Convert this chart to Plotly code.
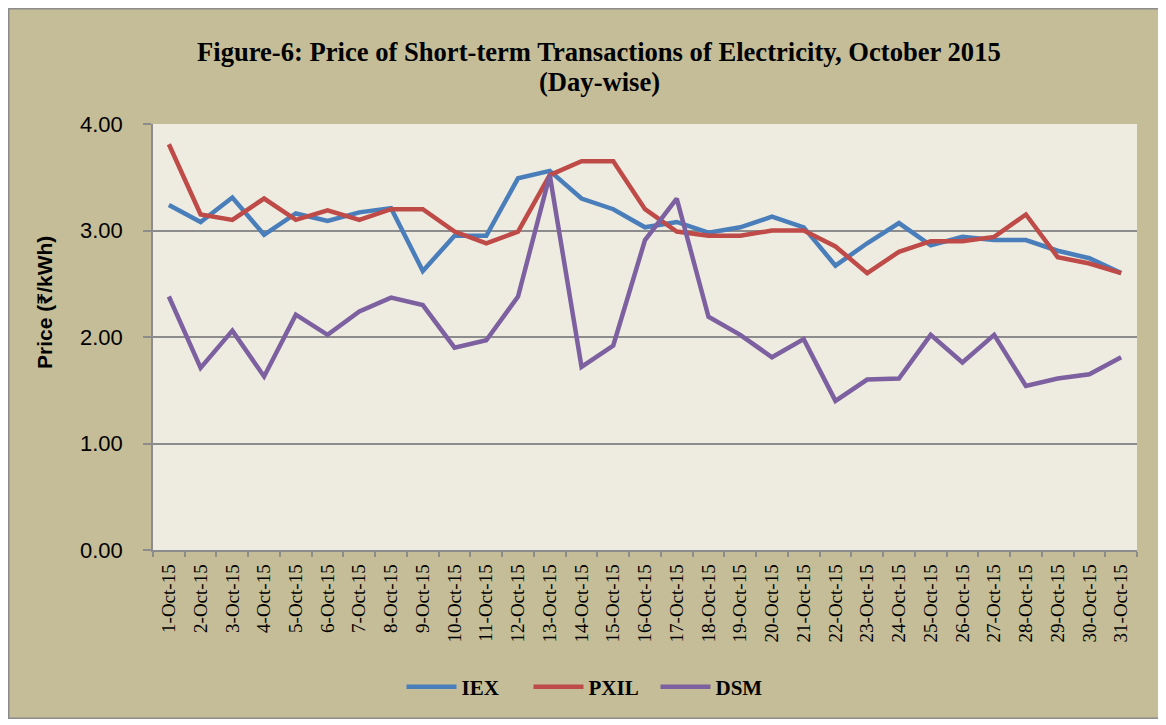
import plotly.graph_objects as go

days = [f"{d}-Oct-15" for d in range(1, 32)]
iex = [3.24, 3.08, 3.31, 2.96, 3.16, 3.09, 3.17, 3.21, 2.62, 2.95, 2.95, 3.49, 3.56, 3.30, 3.20, 3.03,
       3.08, 2.98, 3.03, 3.13, 3.03, 2.67, 2.88, 3.07, 2.86, 2.94, 2.91, 2.91, 2.81, 2.74, 2.60]
pxil = [3.81, 3.15, 3.10, 3.30, 3.10, 3.19, 3.10, 3.20, 3.20, 2.99, 2.88, 2.99, 3.52, 3.65, 3.65, 3.20,
        2.99, 2.95, 2.95, 3.00, 3.00, 2.85, 2.60, 2.80, 2.90, 2.90, 2.94, 3.15, 2.75, 2.69, 2.60]
dsm = [2.38, 1.71, 2.06, 1.63, 2.21, 2.02, 2.24, 2.37, 2.30, 1.90, 1.97, 2.38, 3.52, 1.72, 1.92, 2.91,
       3.30, 2.19, 2.02, 1.81, 1.98, 1.40, 1.60, 1.61, 2.02, 1.76, 2.02, 1.54, 1.61, 1.65, 1.81]
y_ticks = [0, 1, 2, 3, 4]
y_tick_labels = ["0.00", "1.00", "2.00", "3.00", "4.00"]
title_line1 = "Figure-6: Price of Short-term Transactions of Electricity, October 2015"
title_line2 = "(Day-wise)"
y_title = "Price (₹/kWh)"

series = [("IEX", iex, "#4A7EBB"), ("PXIL", pxil, "#BE4B48"), ("DSM", dsm, "#7D60A0")]

fig = go.Figure()
for name, vals, col in series:
    fig.add_trace(go.Scatter(x=days, y=vals, name=f"<b>{name}</b>", mode="lines",
                             line=dict(color=col, width=4.5)))

# page offset (browser body margin) is 8px
OFF = 8
W, H = 1153, 711
L, R, T, B = 153 - OFF, 1137 - OFF, 124 - OFF, 550 - OFF
pw, ph = R - L, B - T


def px_x(x):  # page x -> paper
    return (x - OFF - L) / pw


def px_y(y):  # page y -> paper
    return (B - (y - OFF)) / ph


fig.add_shape(type="rect", xref="paper", yref="paper", layer="above",
              x0=px_x(OFF + 0.75), x1=px_x(OFF + W - 0.75), y0=px_y(OFF + H - 0.75), y1=px_y(OFF + 0.75),
              fillcolor="rgba(0,0,0,0)", line=dict(color="#8C8C8C", width=1.5))

title_font = dict(family="Liberation Serif, Times New Roman, serif", size=26.6, color="black")
for txt, yc in [(title_line1, 52), (title_line2, 82)]:
    fig.add_annotation(text=f"<b>{txt}</b>", xref="paper", yref="paper",
                       x=px_x(599), y=px_y(yc), xanchor="center", yanchor="middle",
                       showarrow=False, font=title_font)

fig.add_annotation(text=f"<b>{y_title}</b>", xref="paper", yref="paper", textangle=-90,
                   x=px_x(44), y=px_y(303), xanchor="center", yanchor="middle", showarrow=False,
                   font=dict(family="Liberation Sans, Noto Sans, DejaVu Sans, sans-serif", size=21, color="black"))

fig.update_layout(
    width=W, height=H,
    margin=dict(l=L, r=W - R, t=T, b=H - B),
    paper_bgcolor="#C4BD97",
    plot_bgcolor="#EEECE1",
    legend=dict(orientation="h", x=px_x(592), xanchor="center", y=px_y(687), yanchor="middle",
                font=dict(family="Liberation Serif, Times New Roman, serif", size=21, color="black"),
                bgcolor="rgba(0,0,0,0)", traceorder="normal", itemwidth=50, entrywidth=62),
    showlegend=True,
)

fig.update_xaxes(
    type="category", range=[-0.5, 30.5],
    tickangle=-90, tickson="boundaries", ticks="outside", ticklen=5, tickcolor="#8C8C8C", tickwidth=1.5,
    ticklabelstandoff=5,
    tickfont=dict(family="Liberation Serif, Times New Roman, serif", size=19, color="black"),
    showline=True, linecolor="#8C8C8C", linewidth=1.5,
    showgrid=False, zeroline=False,
)
fig.update_yaxes(
    range=[0, 4], tickvals=y_ticks, ticktext=y_tick_labels,
    ticks="outside", ticklen=8, tickcolor="#8C8C8C", tickwidth=1.5,
    ticklabelstandoff=16,
    tickfont=dict(family="Liberation Sans, Arial, sans-serif", size=22, color="black"),
    showline=True, linecolor="#8C8C8C", linewidth=1.5,
    showgrid=True, gridcolor="#8C8C8C", gridwidth=1.5, zeroline=False,
)

fig.write_html("out.html")
